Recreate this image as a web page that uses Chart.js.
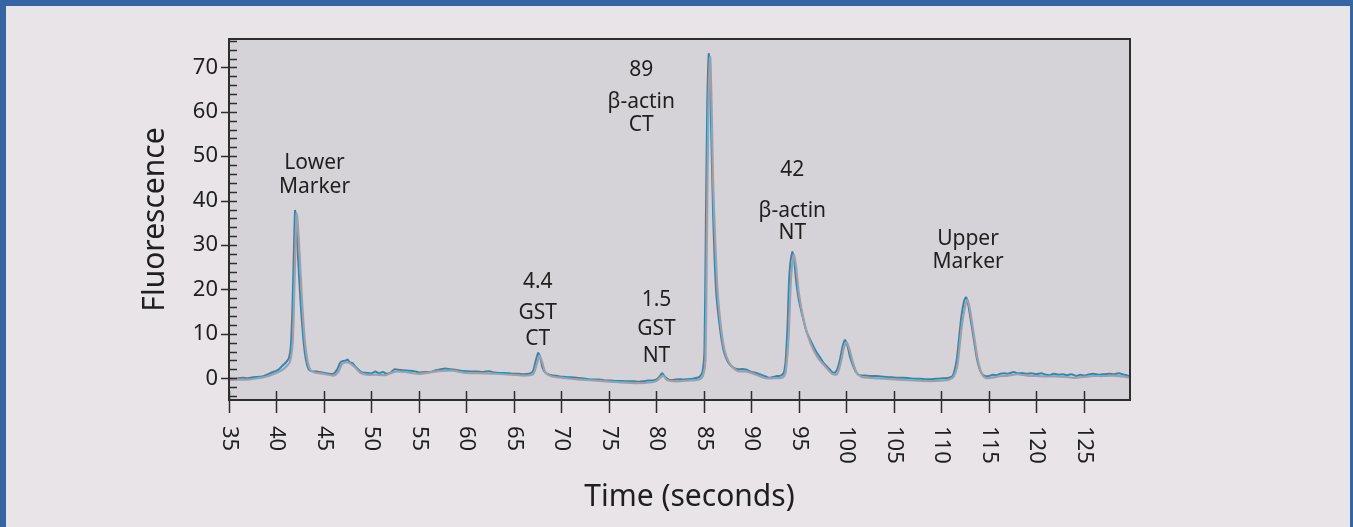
<!DOCTYPE html>
<html>
<head>
<meta charset="utf-8">
<script src="https://cdn.jsdelivr.net/npm/chart.js@4.4.1/dist/chart.umd.min.js"></script>
<style>
  html, body { margin: 0; padding: 0; background: #e8e4e8; }
  canvas { position: absolute; left: 0; top: 0; }
  #frame {
    position: absolute; left: 0; top: 0; width: 1353px; height: 527px;
    box-sizing: border-box; pointer-events: none;
    border-top: 6px solid #3465a4; border-left: 6px solid #3465a4; border-right: 3px solid #3465a4;
  }
</style>
</head>
<body>
<canvas id="trace" width="1353" height="527"></canvas>
<div id="frame"></div>
<script>
// electropherogram, blue trace (seconds / fluorescence)
const blueTime = [
  35.0, 35.5, 36.0, 36.5, 37.0, 37.5, 38.0, 38.5, 39.0, 39.5, 40.0, 40.3, 40.7, 41.0, 41.3, 41.5, 41.65, 41.8, 41.95, 42.05,
  42.2, 42.4, 42.6, 42.8, 43.0, 43.2, 43.4, 43.7, 44.2, 44.8, 45.5, 46.0, 46.4, 46.7, 47.0, 47.3, 47.5, 47.7, 48.0, 48.3,
  48.7, 49.0, 49.5, 50.0, 50.4, 50.8, 51.2, 51.6, 52.0, 52.4, 52.8, 53.3, 53.9, 54.5, 55.0, 55.6, 56.2, 56.8, 57.2, 57.8,
  58.3, 58.8, 59.4, 60.0, 60.6, 61.2, 61.8, 62.4, 62.9, 63.5, 64.0, 64.5, 65.0, 65.5, 66.0, 66.6, 67.0, 67.3, 67.55, 67.8,
  68.0, 68.3, 68.7, 69.2, 69.8, 70.4, 71.0, 71.6, 72.2, 72.8, 73.4, 74.0, 74.6, 75.2, 75.8, 76.4, 77.0, 77.6, 78.2, 78.8,
  79.4, 79.9, 80.3, 80.6, 80.9, 81.3, 81.8, 82.3, 82.8, 83.3, 83.8, 84.3, 84.6, 84.85, 85.05, 85.2, 85.35, 85.5, 85.6, 85.75,
  85.95, 86.1, 86.3, 86.7, 87.05, 87.4, 87.75, 88.2, 88.6, 89.0, 89.5, 90.0, 90.5, 91.0, 91.5, 91.9, 92.3, 92.7, 93.1, 93.4,
  93.6, 93.8, 94.0, 94.3, 94.5, 94.7, 95.0, 95.4, 95.8, 96.2, 96.6, 96.9, 97.3, 97.6, 98.0, 98.4, 98.7, 99.0, 99.3, 99.6,
  99.85, 100.1, 100.4, 100.8, 101.1, 101.4, 102.0, 102.5, 103.0, 103.6, 104.2, 104.8, 105.4, 106.0, 106.6, 107.2, 107.8, 108.4, 109.0, 109.6,
  110.2, 110.8, 111.2, 111.6, 111.9, 112.1, 112.4, 112.6, 112.8, 113.2, 113.5, 113.7, 114.0, 114.3, 114.6, 115.0, 115.4, 115.8, 116.2, 116.6,
  117.0, 117.6, 118.0, 118.5, 119.0, 119.5, 120.0, 120.5, 121.0, 121.4, 121.8, 122.3, 122.8, 123.2, 123.7, 124.2, 124.6, 125.1, 125.6, 126.0,
  126.5, 127.0, 127.7, 128.2, 128.7, 129.2, 129.8
];
const blueFluor = [
  0.0, -0.1, 0.0, 0.1, 0.0, 0.2, 0.3, 0.4, 0.8, 1.3, 1.7, 2.1, 3.0, 3.6, 4.5, 7, 14, 26, 37.7, 36.5,
  30, 22, 15, 9.5, 5.5, 3.2, 2.0, 1.6, 1.5, 1.3, 1.0, 1.0, 2.0, 3.5, 3.9, 4.0, 4.2, 3.6, 3.4, 2.6,
  1.8, 1.3, 1.2, 1.1, 1.5, 1.1, 1.4, 1.0, 1.2, 2.0, 1.9, 1.8, 1.7, 1.6, 1.3, 1.4, 1.4, 1.8, 2.0, 2.2,
  2.0, 1.9, 1.7, 1.6, 1.5, 1.5, 1.4, 1.6, 1.3, 1.2, 1.2, 1.1, 1.0, 1.0, 0.9, 1.0, 1.6, 4.0, 5.7, 4.4,
  2.4, 1.3, 0.8, 0.6, 0.4, 0.3, 0.2, 0.1, 0.0, -0.2, -0.3, -0.3, -0.5, -0.5, -0.6, -0.6, -0.7, -0.7, -0.8, -0.6,
  -0.5, -0.4, 0.3, 1.1, 0.3, -0.3, -0.4, -0.2, -0.3, -0.2, -0.1, 0.1, 0.5, 1.5, 6, 35, 62, 73, 71, 57,
  38, 28, 19, 11, 6.4, 4.2, 3.0, 2.3, 2.0, 2.1, 1.9, 1.4, 1.2, 0.8, 0.4, 0.1, 0.3, 0.5, 0.6, 1.2,
  4, 12, 23.5, 28.4, 26.5, 22, 17.5, 13.8, 10.5, 8.6, 6.8, 5.7, 4.4, 3.4, 2.5, 1.6, 1.2, 1.9, 4, 7.2,
  8.6, 7.4, 4.6, 2.3, 1.1, 0.7, 0.6, 0.5, 0.5, 0.4, 0.3, 0.2, 0.1, 0.1, 0.0, -0.1, -0.1, -0.2, -0.2, -0.1,
  0.0, 0.1, 0.6, 4.1, 10, 13.9, 17.5, 18.2, 16.8, 11.6, 7.5, 4.8, 2.2, 0.9, 0.5, 0.5, 0.8, 0.7, 1.0, 1.1,
  1.0, 1.4, 1.1, 1.2, 1.0, 1.1, 0.9, 1.1, 0.8, 0.7, 1.0, 0.8, 0.9, 0.7, 0.9, 0.5, 0.8, 0.6, 0.9, 1.0,
  0.8, 0.9, 1.0, 0.9, 1.1, 0.8, 0.5
];

// grey trace, slightly late and a touch lower
const greyTime = [
  35.0, 36.0, 37.0, 38.0, 39.0, 40.0, 40.5, 41.0, 41.4, 41.7, 41.9, 42.1, 42.2, 42.4, 42.7, 43.0, 43.3, 43.6, 44.0, 45.0,
  46.0, 46.5, 46.9, 47.4, 47.7, 48.2, 48.8, 49.5, 50.5, 51.5, 52.5, 53.5, 55.0, 57.0, 58.5, 60.0, 62.0, 64.0, 66.0, 67.0,
  67.4, 67.7, 68.0, 68.3, 69.0, 70.5, 72.0, 74.0, 76.0, 78.0, 79.5, 80.0, 80.7, 81.1, 82.0, 83.5, 84.5, 84.9, 85.15, 85.3,
  85.45, 85.65, 85.8, 85.95, 86.2, 86.45, 86.85, 87.2, 87.6, 88.0, 88.6, 89.5, 90.5, 91.5, 92.5, 93.3, 93.6, 93.9, 94.15, 94.45,
  94.7, 95.0, 95.5, 96.0, 96.5, 97.0, 97.7, 98.5, 99.0, 99.4, 99.75, 100.0, 100.3, 100.7, 101.1, 101.6, 102.5, 104.0, 106.0, 108.0,
  109.5, 110.8, 111.3, 111.7, 112.1, 112.5, 112.75, 113.0, 113.4, 113.8, 114.2, 114.6, 115.2, 116.0, 117.0, 118.0, 119.0, 120.0, 121.0, 122.0,
  123.0, 124.0, 125.0, 126.0, 127.0, 128.0, 129.0, 129.9
];
const greyFluor = [
  -0.4, -0.3, -0.3, 0.0, 0.4, 1.2, 1.7, 2.6, 3.6, 8, 22, 37.0, 36, 29, 17, 8, 3.5, 1.8, 1.3, 1.0,
  0.6, 1.4, 3.2, 3.6, 3.4, 2.6, 1.3, 0.8, 0.8, 0.7, 1.5, 1.4, 1.0, 1.6, 1.7, 1.2, 1.1, 0.9, 0.6, 0.9,
  3.2, 5.1, 3.4, 1.3, 0.4, 0.0, -0.3, -0.6, -0.9, -1.1, -0.9, -0.6, 0.6, -0.4, -0.7, -0.5, -0.3, 0.6, 4, 30,
  58, 72.3, 62, 45, 30, 19, 10.5, 6, 3.7, 2.5, 1.6, 1.5, 0.8, 0.0, 0.0, 0.2, 1.5, 9, 22, 27.8,
  25, 19, 13, 9.2, 6.5, 4.6, 2.8, 1.0, 0.9, 3.5, 7.0, 8.1, 6.6, 3.4, 1.2, 0.3, 0.1, -0.1, -0.4, -0.6,
  -0.6, -0.3, 0.4, 3.2, 11, 16.4, 17.6, 15.5, 10, 4.5, 1.2, 0.1, 0.1, 0.4, 0.6, 0.9, 0.6, 0.5, 0.4, 0.4,
  0.3, 0.1, 0.3, 0.5, 0.5, 0.6, 0.4, 0.1
];

const xTicks = [35, 40, 45, 50, 55, 60, 65, 70, 75, 80, 85, 90, 95, 100, 105, 110, 115, 120, 125];
const yTicks = [0, 10, 20, 30, 40, 50, 60, 70];

// peak labels: text lines, x (s), y of each line (fluorescence units)
const peakText = [
  ['Lower', 'Marker'],
  ['4.4', 'GST', 'CT'],
  ['1.5', 'GST', 'NT'],
  ['89', 'β-actin', 'CT'],
  ['42', 'β-actin', 'NT'],
  ['Upper', 'Marker']
];
const peakX = [44.0, 67.5, 80.0, 78.4, 94.3, 112.8];
const peakY = [
  [48.5, 43.1],
  [21.7, 14.7, 8.9],
  [17.6, 11.1, 5.0],
  [69.5, 62.3, 57.0],
  [47.0, 37.7, 32.6],
  [31.4, 26.2]
];

const FONT = '"Noto Sans", "Open Sans", "DejaVu Sans", sans-serif';
const INK = '#1f1f1f';

const toPoints = (xs, ys) => xs.map((t, i) => ({ x: t, y: ys[i] }));

const decor = {
  id: 'decor',
  beforeDatasetsDraw(chart) {
    const { ctx, chartArea: a } = chart;
    ctx.save();
    ctx.fillStyle = '#d5d3d7';
    ctx.fillRect(a.left, a.top, a.right - a.left, a.bottom - a.top);
    ctx.restore();
  },
  afterDraw(chart) {
    const { ctx, chartArea: a } = chart;
    const x = chart.scales.x, y = chart.scales.y;
    ctx.save();

    // frame + ticks
    ctx.strokeStyle = '#2e2e2e';
    ctx.lineWidth = 2;
    ctx.strokeRect(a.left, a.top, a.right - a.left, a.bottom - a.top);
    ctx.lineWidth = 1.5;
    ctx.beginPath();
    for (let v = -4; v <= 76; v += 2) {
      const py = Math.round(y.getPixelForValue(v)) + 0.5;
      const major = v % 10 === 0;
      ctx.moveTo(a.left - (major ? 8 : 0), py);
      ctx.lineTo(a.left + 8, py);
    }
    xTicks.forEach(v => {
      const px = Math.round(x.getPixelForValue(v)) + 0.5;
      ctx.moveTo(px, a.bottom - 9);
      ctx.lineTo(px, a.bottom + 13);
    });
    ctx.stroke();

    ctx.fillStyle = INK;
    ctx.font = '22px ' + FONT;
    ctx.textAlign = 'right';
    ctx.textBaseline = 'middle';
    yTicks.forEach(v => ctx.fillText(String(v), a.left - 11, y.getPixelForValue(v)));

    // x labels read top to bottom
    ctx.textAlign = 'left';
    xTicks.forEach(v => {
      ctx.save();
      ctx.translate(x.getPixelForValue(v), a.bottom + 26);
      ctx.rotate(Math.PI / 2);
      ctx.fillText(String(v), 0, 0);
      ctx.restore();
    });

    // axis titles
    ctx.font = '30px ' + FONT;
    ctx.textAlign = 'center';
    ctx.fillText('Time (seconds)', (a.left + a.right) / 2 + 10, 497);
    ctx.save();
    ctx.translate(155, (a.top + a.bottom) / 2);
    ctx.rotate(-Math.PI / 2);
    ctx.fillText('Fluorescence', 0, 0);
    ctx.restore();

    // peak annotations
    ctx.font = '21px ' + FONT;
    peakText.forEach((lines, i) => {
      lines.forEach((s, j) => ctx.fillText(s, x.getPixelForValue(peakX[i]), y.getPixelForValue(peakY[i][j])));
    });
    ctx.restore();
  }
};

function initChart() {
  const canvas = document.getElementById('trace');
  if (!canvas) return;

  new Chart(canvas.getContext('2d'), {
    type: 'line',
    data: {
      datasets: [
        {
          label: 'grey',
          data: toPoints(greyTime, greyFluor),
          borderColor: '#a19ea7',
          borderWidth: 2.2,
          pointRadius: 0,
          tension: 0.25
        },
        {
          label: 'blue',
          data: toPoints(blueTime, blueFluor),
          borderColor: '#2a8ab6',
          borderWidth: 2,
          pointRadius: 0,
          tension: 0.25
        }
      ]
    },
    options: {
      responsive: false,
      animation: false,
      devicePixelRatio: 1,
      layout: { padding: { top: 39, right: 223, left: 0, bottom: 0 } },
      plugins: { legend: { display: false }, tooltip: { enabled: false } },
      scales: {
        x: {
          type: 'linear', min: 35, max: 129.85,
          grid: { display: false }, border: { display: false },
          ticks: { display: false },
          afterFit: s => { s.height = 127; }
        },
        y: {
          min: -4.9, max: 76.4,
          grid: { display: false }, border: { display: false },
          ticks: { display: false },
          afterFit: s => { s.width = 229; }
        }
      }
    },
    plugins: [decor]
  });
}

window.onload = initChart;
</script>
</body>
</html>
